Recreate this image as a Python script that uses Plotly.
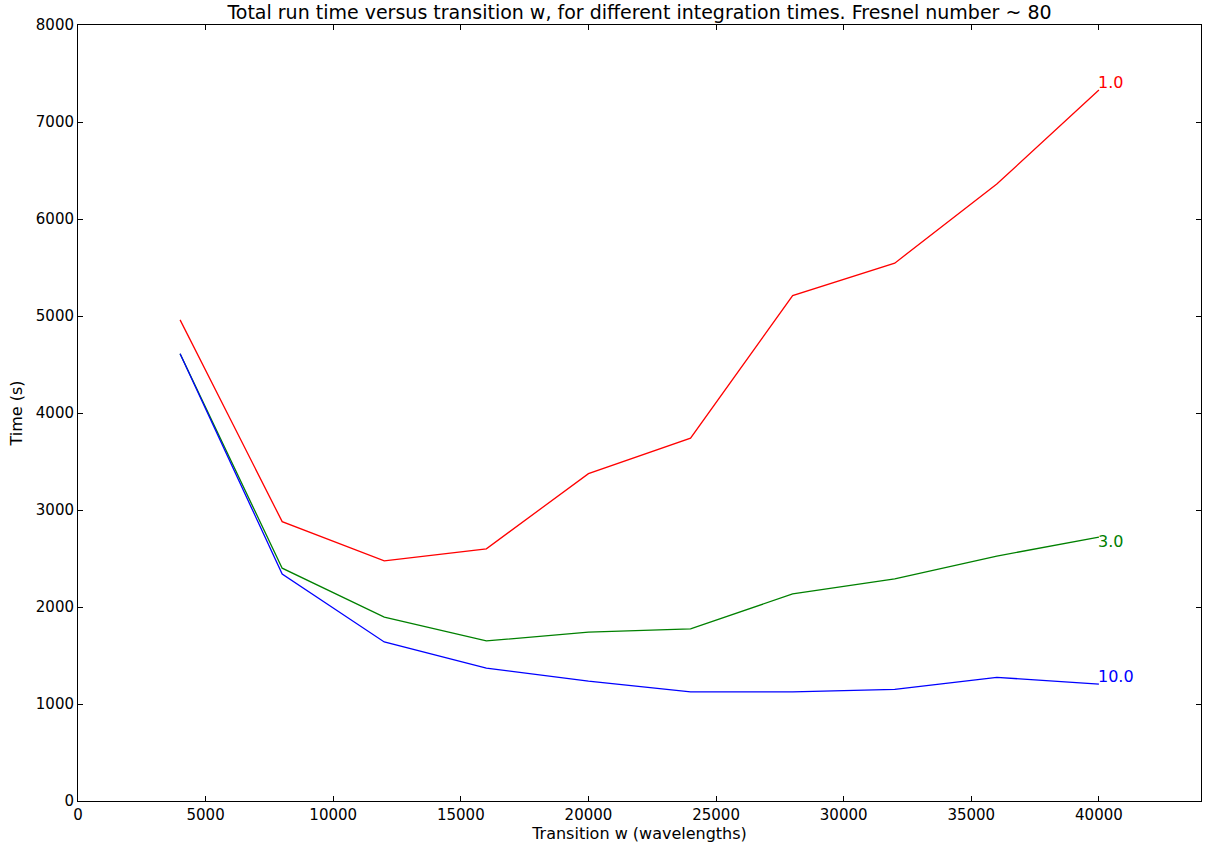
import plotly.graph_objects as go

x_vals = [4000, 8000, 12000, 16000, 20000, 24000, 28000, 32000, 36000, 40000]
t_1 = [4960, 2880, 2475, 2600, 3375, 3740, 5210, 5545, 6360, 7330]
t_3 = [4610, 2400, 1895, 1650, 1740, 1775, 2135, 2290, 2525, 2720]
t_10 = [4610, 2340, 1640, 1370, 1235, 1125, 1125, 1150, 1275, 1205]
series_names = ["1.0", "3.0", "10.0"]
series_colors = ["red", "green", "blue"]
label_y = [7330, 2600, 1206]

FONT = "DejaVu Sans"
fig = go.Figure()
for name, ys, col, ly in zip(series_names, [t_1, t_3, t_10], series_colors, label_y):
    fig.add_trace(go.Scatter(x=x_vals, y=ys, mode="lines", name=name,
                             line=dict(color=col, width=1.3)))
    fig.add_annotation(x=x_vals[-1], y=ly, text=name, showarrow=False,
                       xanchor="left", yanchor="bottom", xshift=-3, yshift=-4,
                       font=dict(color=col, size=16, family=FONT))

axis_common = dict(showline=True, mirror="ticks", linecolor="black", linewidth=1,
                   ticks="inside", ticklen=5, tickcolor="black", showgrid=False,
                   zeroline=False, tickformat="d",
                   tickfont=dict(size=15, family=FONT, color="black"))
fig.update_layout(
    width=1207, height=843,
    margin=dict(l=78, r=6, t=25, b=42),
    paper_bgcolor="white", plot_bgcolor="white",
    showlegend=False,
    title=dict(text="Total run time versus transition w, for different integration times. Fresnel number ~ 80",
               x=0.5, xref="paper", y=0.9855, yanchor="middle",
               font=dict(size=19, family=FONT, color="black")),
    xaxis=dict(range=[0, 44000], dtick=5000, tick0=0,
               title=dict(text="Transition w (wavelengths)", standoff=0,
                          font=dict(size=16, family=FONT, color="black")),
               **axis_common),
    yaxis=dict(range=[0, 8000], dtick=1000, tick0=0,
               title=dict(text="Time (s)", standoff=9,
                          font=dict(size=16, family=FONT, color="black")),
               **axis_common),
)
fig.write_html("out.html", config={"displayModeBar": False},
               post_script="document.body.style.margin='0';document.body.style.overflow='hidden';")
